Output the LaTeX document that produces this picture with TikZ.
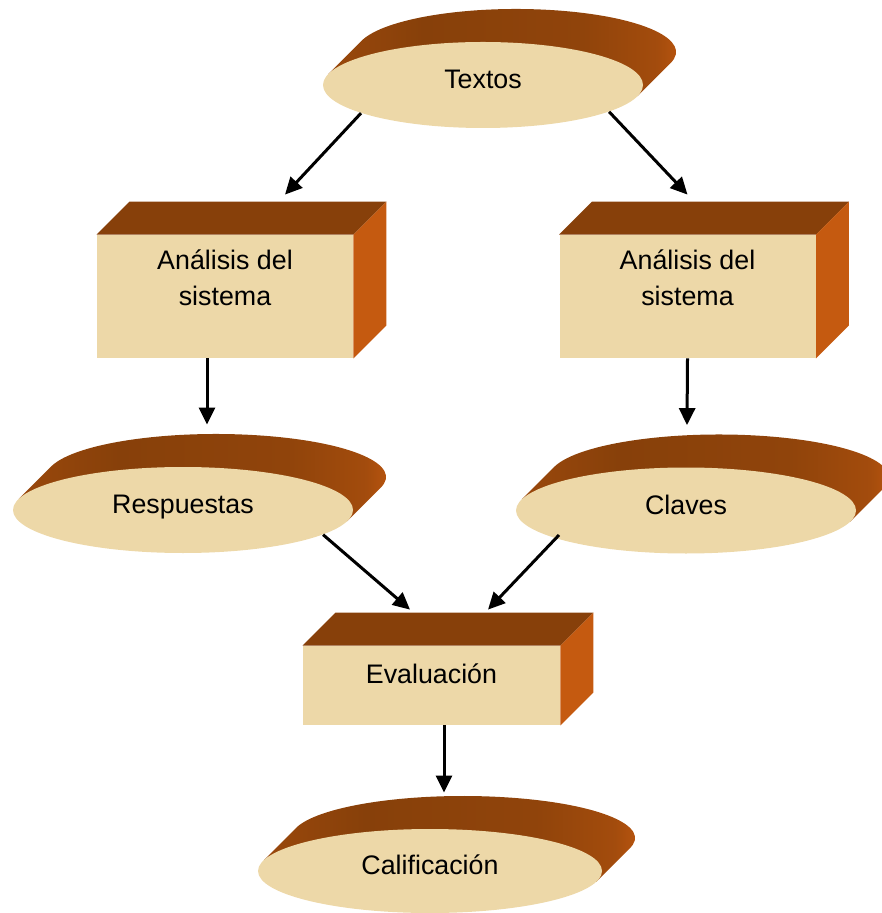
\documentclass[tikz,border=0pt]{standalone}
\usepackage{fontspec}
\setmainfont{Liberation Sans}
\usetikzlibrary{arrows.meta,backgrounds,shapes.geometric}
\definecolor{papyrus}{HTML}{EDD8A8}
\definecolor{topbrown}{HTML}{87400A}
\definecolor{sideorange}{HTML}{C55A10}
\pgfdeclarehorizontalshading{bandshade}{100bp}{color(0bp)=(topbrown!70!sideorange); color(25bp)=(topbrown!70!sideorange);
  color(38bp)=(topbrown); color(60bp)=(topbrown!85!sideorange); color(70bp)=(topbrown!55!sideorange); color(75bp)=(sideorange); color(100bp)=(sideorange)}
\tikzset{
  face/.style={fill=papyrus, inner sep=0pt, font=\fontsize{13.4}{18}\selectfont, text height=9.5pt},
  oval/.style={face, ellipse, minimum height=43pt, text depth=6pt},
  block/.style={face, rectangle, minimum width=128pt},
  arr/.style={-{Triangle[length=8.5pt,width=8pt]}, line width=1.5pt},
  band/.style={shading=bandshade}
}
% back part of an oval: node, x radius, y radius
\newcommand\ovalband[3]{%
  \shade[band] ([shift={(165:#2 and #3)}]#1.center) -- ++(33,33)
    arc[start angle=165, end angle=-15, x radius=#2, y radius=#3]
    -- ([shift={(-15:#2 and #3)}]#1.center) -- cycle;}
% top and side of a block
\newcommand\boxsides[1]{%
  \fill[topbrown] (#1.north west) -- ++(33,33) -- ([shift={(33,33)}]#1.north east) -- (#1.north east) -- cycle;
  \fill[sideorange] (#1.north east) -- ++(33,33) -- ([shift={(33,33)}]#1.south east) -- (#1.south east) -- cycle;}
\begin{document}
\begin{tikzpicture}[x=0.5pt,y=0.5pt]
\useasboundingbox (0,0) rectangle (881,-913);
\node[oval, minimum width=160pt] (txt) at (483,-85) {Textos};
\node[block, minimum height=61.5pt, align=center, text depth=-1pt] (an1) at (225,-296.5) {Análisis del\\sistema};
\node[block, minimum height=61.5pt, align=center, text depth=-1pt] (an2) at (687.5,-296.5) {Análisis del\\sistema};
\node[oval, minimum width=170pt] (resp) at (183,-510) {Respuestas};
\node[oval, minimum width=170pt] (clav) at (686,-510.5) {Claves};
\node[block, minimum width=128.5pt, minimum height=39.5pt, text depth=12pt] (eval) at (431.5,-685.5) {Evaluación};
\node[oval, minimum width=172pt, minimum height=42pt] (calif) at (430,-871) {Calificación};
\begin{pgfonlayer}{background}
\ovalband{txt}{160}{43}
\ovalband{resp}{170}{43}
\ovalband{clav}{170}{43}
\ovalband{calif}{172}{42}
\boxsides{an1}
\boxsides{an2}
\boxsides{eval}
\end{pgfonlayer}
\draw[arr] (txt.193) -- ([shift={(60,40)}]an1.north);
\draw[arr] (txt.348) -- ([shift={(0,40)}]an2.north);
\draw[arr] ([shift={(-18,0)}]an1.south) -- ([shift={(24,42)}]resp.north);
\draw[arr] (an2.south) -- ([shift={(1,42)}]clav.north);
\draw[arr] (resp.350) -- ([shift={(-21.5,36)}]eval.north);
\draw[arr] ([shift={(-127,-24.5)}]clav.center) -- ([shift={(56.5,36)}]eval.north);
\draw[arr] ([shift={(12.5,0)}]eval.south) -- ([shift={(14,36)}]calif.north);

\end{tikzpicture}
\end{document}
